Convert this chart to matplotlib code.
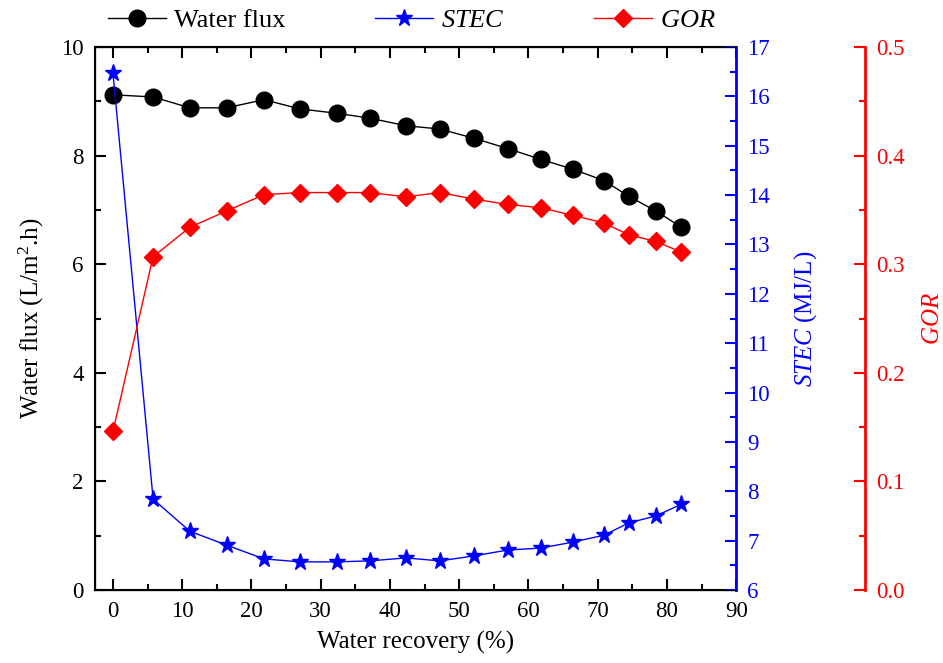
import numpy as np
import matplotlib.pyplot as plt
from matplotlib.ticker import MultipleLocator

# SETTINGS
plt.rcParams['font.family'] = ['Liberation Serif', 'DejaVu Serif']
plt.rcParams['mathtext.fontset'] = 'custom'
plt.rcParams['mathtext.rm'] = 'Liberation Serif'
plt.rcParams['mathtext.it'] = 'Liberation Serif:italic'
plt.rcParams['font.size'] = 16.5

# DATA
recovery = [0, 5.8, 11.1, 16.4, 21.8, 27.0, 32.3, 37.1, 42.3, 47.2,
            52.1, 57.0, 61.8, 66.4, 70.9, 74.5, 78.4, 82.1]
water_flux = [9.12, 9.08, 8.88, 8.88, 9.03, 8.86, 8.78, 8.69, 8.55, 8.49,
              8.32, 8.13, 7.93, 7.75, 7.54, 7.25, 6.98, 6.68]
stec = [16.47, 7.84, 7.19, 6.91, 6.63, 6.57, 6.57, 6.59, 6.65, 6.59,
        6.69, 6.81, 6.85, 6.97, 7.11, 7.36, 7.50, 7.74]
gor = [0.146, 0.307, 0.334, 0.349, 0.364, 0.366, 0.366, 0.366, 0.362, 0.366,
       0.360, 0.355, 0.352, 0.345, 0.338, 0.327, 0.321, 0.311]

BLUE = '#0000ff'
RED = '#ff0000'
LABEL_SIZE = 18

fig = plt.figure(figsize=(9.43, 6.63), dpi=100)
ax = fig.add_axes([0.1007, 0.1101, 0.680, 0.819])
ax2 = ax.twinx()
ax3 = ax.twinx()
ax3.spines['right'].set_position(('axes', 1.201))

l1, = ax.plot(recovery, water_flux, '-o', color='black', lw=1, ms=12,
              label='Water flux', zorder=3)
l2, = ax2.plot(recovery, stec, '-*', color=BLUE, lw=1, ms=12.5,
               label=r'$\mathit{STEC}$')
l3, = ax3.plot(recovery, gor, '-D', color=RED, lw=1, ms=9.5,
               label=r'$\mathit{GOR}$')

# left / bottom axis
ax.set_xlim(-2.6, 90)
ax.set_ylim(0, 10)
ax.xaxis.set_major_locator(MultipleLocator(10))
ax.xaxis.set_minor_locator(MultipleLocator(5))
ax.yaxis.set_major_locator(MultipleLocator(2))
ax.yaxis.set_minor_locator(MultipleLocator(1))
ax.tick_params(which='both', direction='in', top=True, width=1.5, pad=8)
ax.tick_params(which='major', length=8)
ax.tick_params(which='minor', length=4)
ax.set_xlabel('Water recovery (%)', fontsize=LABEL_SIZE)
ax.set_ylabel('Water flux (L/m$^2$.h)', fontsize=LABEL_SIZE)
ax.xaxis.set_label_coords(0.5, -0.075)
ax.yaxis.set_label_coords(-0.077, 0.5)
for s in ['left', 'bottom', 'top']:
    ax.spines[s].set_linewidth(1.5)

# STEC axis
ax2.set_ylim(6, 17)
ax2.yaxis.set_major_locator(MultipleLocator(1))
ax2.yaxis.set_minor_locator(MultipleLocator(0.5))
ax2.tick_params(which='both', direction='in', colors=BLUE, width=1.5, pad=8)
ax2.tick_params(which='major', length=8)
ax2.tick_params(which='minor', length=4)
ax2.spines['right'].set_color(BLUE)
ax2.spines['right'].set_linewidth(2)
ax2.set_ylabel(r'$\mathit{STEC}$ (MJ/L)', color=BLUE, fontsize=LABEL_SIZE)
ax2.yaxis.set_label_coords(1.087, 0.5)

# GOR axis
ax3.set_ylim(0, 0.5)
ax3.yaxis.set_major_locator(MultipleLocator(0.1))
ax3.yaxis.set_minor_locator(MultipleLocator(0.05))
ax3.yaxis.set_major_formatter(lambda v, p: f'{v:.1f}')
ax3.tick_params(which='both', direction='in', colors=RED, width=1.5, pad=8)
ax3.tick_params(which='major', length=8)
ax3.tick_params(which='minor', length=4)
ax3.spines['right'].set_color(RED)
ax3.spines['right'].set_linewidth(2)
ax3.set_ylabel(r'$\mathit{GOR}$', color=RED, fontsize=LABEL_SIZE)
ax3.yaxis.set_label_coords(1.290, 0.5)

fig.legend(handles=[l1, l2, l3], loc='upper left', bbox_to_anchor=(0.103, 1.003),
           ncol=3, frameon=False, fontsize=19, columnspacing=3.4,
           handlelength=2.2, handletextpad=0.3, borderaxespad=0)

fig.savefig('out.png', dpi=100)
